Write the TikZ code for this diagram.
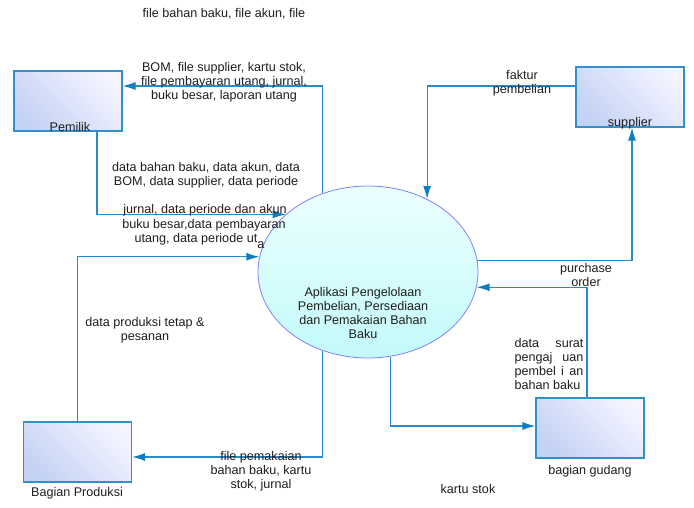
\documentclass[tikz,border=0pt]{standalone}
\usepackage{fontspec}
\setmainfont{Liberation Sans}
\usetikzlibrary{arrows.meta,shapes.geometric}
\definecolor{flowc}{RGB}{40,140,200}
\definecolor{tipc}{RGB}{10,125,195}
\definecolor{boxedge}{RGB}{50,145,205}
\definecolor{boxA}{RGB}{196,210,244}
\definecolor{boxB}{RGB}{244,244,255}
\definecolor{ellA}{RGB}{236,255,255}
\definecolor{ellB}{RGB}{195,250,250}
\definecolor{elledge}{RGB}{128,128,255}
\definecolor{txt}{RGB}{30,30,30}
\tikzset{
  entity/.style={rectangle, draw=boxedge, line width=1.1pt, minimum width=108pt, minimum height=60pt, inner sep=0pt,
    left color=boxA, right color=boxB, shading angle=135},
  procbubble/.style={ellipse, draw=elledge, line width=0.8pt, minimum width=220pt, minimum height=172pt, inner sep=0pt,
    top color=ellA, bottom color=ellB},
  flow/.style={draw=flowc, line width=1.2pt, -{Latex[length=13pt,width=8pt,color=tipc]}},
  lbl/.style={font=\fontsize{12.6pt}{14.2pt}\selectfont, text=txt, align=center, inner sep=0pt},
}
\begin{document}
\begin{tikzpicture}[x=1pt,y=-1pt]
\useasboundingbox (0,0) rectangle (694,507);
% entities
\node[entity] (pemilik) at (68,101) {};
\node[entity] (supplier) at (630,97) {};
\node[entity] (produksi) at (77.5,452) {};
\node[entity] (gudang) at (590,428) {};
\node[procbubble] (proc) at (368,272) {};
% connectors
\draw[flow] (proc.120) |- ([yshift=15pt]pemilik.east);
\draw[flow] ([xshift=29pt]pemilik.south) |- (proc.145);
\draw[flow] (produksi.north) |- (proc.172.6);
\draw[flow] (proc.240) |- ([yshift=-5pt]produksi.east);
\draw[flow] ([yshift=11pt]supplier.west) -| (proc.51);
\draw[flow] (proc.6.8) -| ([xshift=2pt]supplier.south);
\draw[flow] ([xshift=-3pt]gudang.north) |- (proc.-8.4);
\draw[flow] (proc.-75.4) |- ([yshift=2pt]gudang.west);
% entity labels
\node[lbl] (lpemilik) at (70,127) {Pemilik};
\node[lbl] (lsupplier) at (630,123) {supplier};
\node[lbl] (lproduksi) at (77,493) {Bagian Produksi};
\node[lbl] (lgudang) at (590,471) {bagian gudang};
\node[lbl] (lproc) at (363,313) {Aplikasi Pengelolaan\\Pembelian, Persediaan\\dan Pemakaian Bahan\\Baku};
% flow labels
\node[lbl] (t1) at (224,14) {file bahan baku, file akun, file};
\node[lbl] (t2) at (224,82) {BOM, file supplier, kartu stok,\\file pembayaran utang, jurnal,\\buku besar, laporan utang};
\node[lbl] (t3) at (206,175) {data bahan baku, data akun, data\\BOM, data supplier, data periode};
\node[lbl] (t4a) at (205,210) {jurnal, data periode dan akun};
\node[lbl] (t4b) at (204,225) {buku besar,data pembayaran};
\node[lbl] (t4c) at (196,239) {utang, data periode ut};
\node[lbl] (t4d) at (261,245) {a};
\node[lbl] (t5) at (522,83) {faktur\\pembelian};
\node[lbl] (t6) at (586,275) {purchase\\order};
\node[lbl, align=left] (t7) at (549,364) {\parbox{69pt}{\fontsize{12.6pt}{14.2pt}\selectfont data\hfill surat\\pengaj\hfill uan\\pembel\hfill i\hfill an\\bahan baku}};
\node[lbl] (t8) at (145,330) {data produksi tetap \&\\pesanan};
\node[lbl] (t9) at (261,471) {file pemakaian\\bahan baku, kartu\\stok, jurnal};
\node[lbl] (t10) at (468,489) {kartu stok};
\end{tikzpicture}
\end{document}
